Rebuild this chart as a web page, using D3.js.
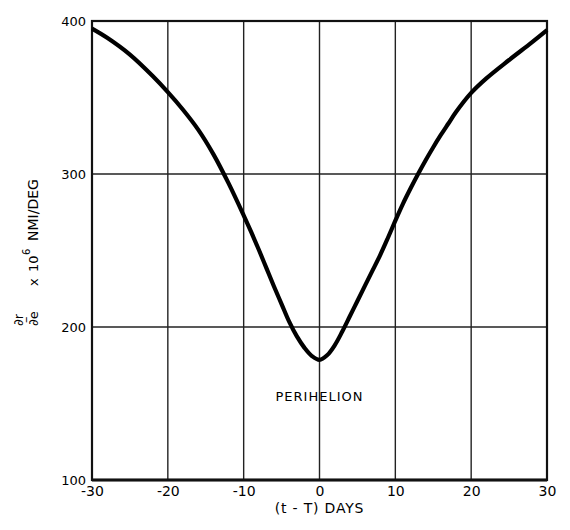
<!DOCTYPE html>
<html>
<head>
<meta charset="utf-8">
<script src="https://cdn.jsdelivr.net/npm/d3@7"></script>
<style>
  body { margin: 0; background: #fff; }
  svg text { font-family: "DejaVu Sans", "Liberation Sans", sans-serif; fill: #000; }
</style>
</head>
<body>
<svg id="chart"></svg>
<script>
// values: days from perihelion vs dr/de (x 10^6 NMI/DEG)
var days = [-30, -28, -25, -22, -20, -18, -16, -14, -12, -10, -9, -8, -7, -6, -5, -4, -3, -2, -1, 0,
            1, 2, 3, 4, 5, 6, 7, 8, 9, 10, 11, 12, 13, 14, 15, 16, 17, 18, 20, 22, 25, 28, 30];
var drde = [395, 389, 378, 364, 353.5, 342, 329, 313, 294, 273, 262, 250.5, 238.5, 226.5, 215, 203.5, 194, 186.5, 181, 178.5,
            181.5, 188, 197, 207, 217, 227, 237, 247, 258, 269.5, 280.5, 290.5, 300, 309, 317.5, 325.5, 333, 340.5, 353, 362.5, 374.5, 386, 394];
var xTicks = [-30, -20, -10, 0, 10, 20, 30];
var yTicks = [100, 200, 300, 400];

var svgWidth = 570, svgHeight = 530;
var margin = { top: 21, right: 23, bottom: 50, left: 92 };
var width = svgWidth - margin.left - margin.right;
var height = svgHeight - margin.top - margin.bottom;

var svg = d3.select('#chart')
    .attr('width', svgWidth)
    .attr('height', svgHeight);

var g = svg.append('g')
    .attr('transform', 'translate(' + margin.left + ',' + margin.top + ')');

var x = d3.scaleLinear().domain([-30, 30]).range([0, width]);
var y = d3.scaleLinear().domain([100, 400]).range([height, 0]);

// grid lines
g.selectAll('.vgrid')
    .data(xTicks.slice(1, -1))
    .enter().append('line')
    .attr('x1', function(d) { return x(d); })
    .attr('x2', function(d) { return x(d); })
    .attr('y1', 0).attr('y2', height)
    .attr('stroke', '#222').attr('stroke-width', 1.4);

g.selectAll('.hgrid')
    .data(yTicks.slice(1, -1))
    .enter().append('line')
    .attr('x1', 0).attr('x2', width)
    .attr('y1', function(d) { return y(d); })
    .attr('y2', function(d) { return y(d); })
    .attr('stroke', '#222').attr('stroke-width', 1.4);

// frame
g.append('rect')
    .attr('width', width).attr('height', height)
    .attr('fill', 'none').attr('stroke', '#111').attr('stroke-width', 2.2);
g.append('line')
    .attr('x1', 0).attr('x2', width)
    .attr('y1', height).attr('y2', height)
    .attr('stroke', '#111').attr('stroke-width', 3);

// axes (labels only)
var xAxis = g.append('g')
    .attr('transform', 'translate(0,' + height + ')')
    .call(d3.axisBottom(x).tickValues(xTicks).tickSize(0).tickPadding(6)
        .tickFormat(function(d) { return d < 0 ? '-' + Math.abs(d) : d; }));
xAxis.select('.domain').remove();
xAxis.selectAll('text').style('font-size', '14px').attr('font-family', null);

var yAxis = g.append('g')
    .call(d3.axisLeft(y).tickValues(yTicks).tickSize(0).tickPadding(6));
yAxis.select('.domain').remove();
yAxis.selectAll('text').style('font-size', '13px').attr('font-family', null);

// curve
var line = d3.line()
    .x(function(d, i) { return x(days[i]); })
    .y(function(d) { return y(d); })
    .curve(d3.curveCatmullRom.alpha(0.5));

g.append('path')
    .datum(drde)
    .attr('d', line)
    .attr('fill', 'none')
    .attr('stroke', '#000')
    .attr('stroke-width', 4.2)
    .attr('stroke-linejoin', 'round');

// annotation
g.append('text')
    .attr('x', x(0))
    .attr('y', 380)
    .attr('text-anchor', 'middle')
    .style('font-size', '13px')
    .style('letter-spacing', '1px')
    .text('PERIHELION');

// x axis title
svg.append('text')
    .attr('x', margin.left + x(0))
    .attr('y', 513)
    .attr('text-anchor', 'middle')
    .style('font-size', '14px')
    .style('letter-spacing', '0.8px')
    .text('(t - T) DAYS');

// y axis title, rotated
var yt = svg.append('g').attr('transform', 'translate(38,326) rotate(-90)');
yt.append('text').attr('x', 0).attr('y', -15).style('font-size', '13px').text('\u2202r');
yt.append('text').attr('x', 3).attr('y', -8).style('font-size', '13px').text('\u2013');
yt.append('text').attr('x', 0).attr('y', 0).style('font-size', '13px').text('\u2202e');
yt.append('text').attr('x', 40).attr('y', 0).style('font-size', '13px').text('x');
yt.append('text').attr('x', 54).attr('y', 0).style('font-size', '13px').text('10');
yt.append('text').attr('x', 71).attr('y', -8).style('font-size', '10px').text('6');
yt.append('text').attr('x', 85).attr('y', 0).style('font-size', '14px').text('NMI/DEG');
</script>
</body>
</html>
